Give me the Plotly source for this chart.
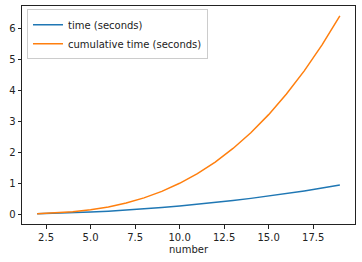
import plotly.graph_objects as go

number = list(range(2, 20))
time_seconds = [0.010, 0.023, 0.042, 0.065, 0.094, 0.127, 0.166, 0.211, 0.260,
                0.315, 0.374, 0.440, 0.510, 0.585, 0.666, 0.752, 0.843, 0.940]
cumulative_seconds = [0.010, 0.033, 0.075, 0.140, 0.234, 0.361, 0.527, 0.738, 0.998,
                      1.313, 1.687, 2.127, 2.637, 3.222, 3.888, 4.640, 5.483, 6.423]

fig = go.Figure()
fig.add_trace(go.Scatter(x=number, y=time_seconds, mode="lines", name="time (seconds)",
                         line=dict(color="#1f77b4", width=1.5)))
fig.add_trace(go.Scatter(x=number, y=cumulative_seconds, mode="lines",
                         name="cumulative time (seconds)",
                         line=dict(color="#ff7f0e", width=1.5)))

axis_common = dict(showline=True, linecolor="#222", linewidth=1, mirror=True,
                   ticks="outside", ticklen=3.5, tickwidth=1, tickcolor="#222",
                   showgrid=False, zeroline=False,
                   tickfont=dict(family="DejaVu Sans", size=10, color="#222"))
fig.update_layout(
    width=362, height=262,
    margin=dict(l=22, r=7, t=6, b=38),
    paper_bgcolor="white", plot_bgcolor="white",
    font=dict(family="DejaVu Sans", size=10, color="#222"),
    xaxis=dict(range=[1.15, 19.85], tick0=0, dtick=2.5, tickformat=".1f",
               title=dict(text="number", font=dict(size=10), standoff=4),
               **axis_common),
    yaxis=dict(range=[-0.32, 6.74], tick0=0, dtick=1, **axis_common),
    legend=dict(x=0.015, y=0.985, xanchor="left", yanchor="top",
                bordercolor="#cccccc", borderwidth=1, bgcolor="rgba(255,255,255,0.8)",
                font=dict(size=10), tracegroupgap=0, itemwidth=30),
    showlegend=True,
)
fig.write_html("out.html")
